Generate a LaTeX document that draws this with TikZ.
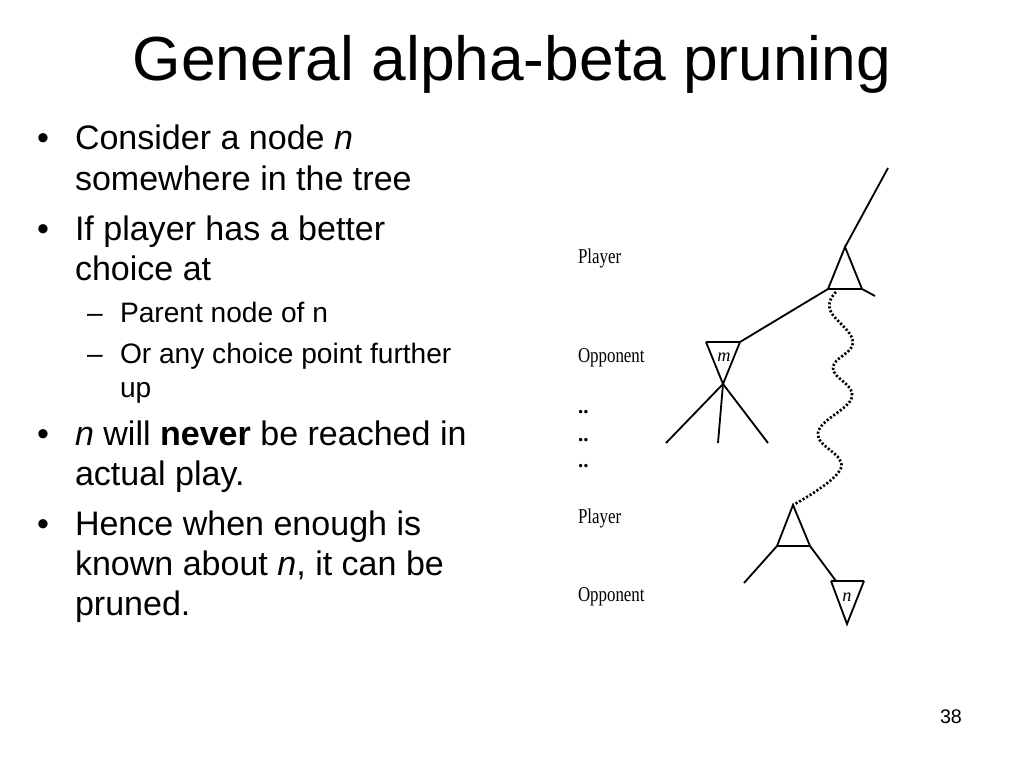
\documentclass[tikz,border=0pt]{standalone}
\usepackage{fontspec}
\setmainfont{Liberation Sans}
\newfontfamily\figfont{Liberation Serif}

\begin{document}
\begin{tikzpicture}[x=0.025cm,y=-0.025cm,
    txt/.style={anchor=base west,inner sep=0pt,outer sep=0pt},
    body/.style={txt,font=\fontsize{24.2pt}{29pt}\selectfont},
    subtxt/.style={txt,font=\fontsize{20pt}{24pt}\selectfont},
    lvl/.style={txt,font=\figfont\fontsize{15pt}{17pt}\selectfont},
    edge/.style={line width=1.3pt},
    tribase/.style={line width=2pt},
    wavy/.style={line width=1.9pt,dash pattern=on 1.5pt off 1.4pt}]
            \useasboundingbox (0,0) rectangle (1024,768);

            % title and bullets
            \node (title) at (512,81)[anchor=base,font=\fontsize{44.3pt}{52pt}\selectfont]{General alpha-beta pruning};
            \foreach \y/\b in {150/b1,240/b2,445/b3,535/b4}{
                \node (\b) at (37,\y)[body]{\textbullet};
            }
            \foreach \y/\d in {322/d1,363/d2}{
                \node (\d) at (87,\y)[subtxt]{\textendash};
            }
            \node (l1) at (75,150)[body]{Consider a node \textit{n}};
            \node (l2) at (75,190)[body]{somewhere in the tree};
            \node (l3) at (75,240)[body]{If player has a better};
            \node (l4) at (75,280)[body]{choice at};
            \node (s1) at (120,322)[subtxt]{Parent node of n};
            \node (s2) at (120,363)[subtxt]{Or any choice point further};
            \node (s3) at (120,397)[subtxt]{up};
            \node (l5) at (75,445)[body]{\textit{n} will \textbf{never} be reached in};
            \node (l6) at (75,485)[body]{actual play.};
            \node (l7) at (75,535)[body]{Hence when enough is};
            \node (l8) at (75,575)[body]{known about \textit{n}, it can be};
            \node (l9) at (75,615)[body]{pruned.};
            \node (page) at (940,723)[txt,font=\fontsize{14pt}{16pt}\selectfont]{38};

            % level labels
            \node (player1) at (578,263)[lvl]{\scalebox{0.8}[1]{Player}};
            \node (opp1) at (578,362)[lvl]{\scalebox{0.8}[1]{Opponent}};
            \foreach \y/\d in {413/e1,441/e2,467/e3}{
                \node (\d) at (578,\y)[lvl]{\textbf{..}};
            }
            \node (player2) at (578,523)[lvl]{\scalebox{0.8}[1]{Player}};
            \node (opp2) at (578,601)[lvl]{\scalebox{0.8}[1]{Opponent}};

            % tree points
            \coordinate (up) at (888,168);
            \coordinate (p1) at (845,247);
            \coordinate (p1l) at (828,289);
            \coordinate (p1r) at (862,289);
            \coordinate (p1t) at (875,296);
            \coordinate (ml) at (706,342);
            \coordinate (mr) at (740,342);
            \coordinate (mb) at (723,384);
            \coordinate (c1) at (666,443);
            \coordinate (c2) at (718,443);
            \coordinate (c3) at (768,443);
            \coordinate (p2) at (793,505);
            \coordinate (p2l) at (777,546);
            \coordinate (p2r) at (810,546);
            \coordinate (p2c) at (744,583);
            \coordinate (nl) at (831,581);
            \coordinate (nr) at (864,581);
            \coordinate (nb) at (847,624);
            \coordinate (nt) at (836,581);

            % upper player node
            \draw[edge] (up)--(p1);
            \draw[edge] (p1l)--(p1)--(p1r)--(p1t);
            \draw[tribase] (p1l)--(p1r);
            \draw[edge] (p1l)--(mr);

            % node m
            \draw[edge] (ml)--(mb)--(mr);
            \draw[tribase] (ml)--(mr);
            \node (mlab) at (724,357)[font=\figfont\fontsize{13pt}{15pt}\selectfont\itshape]{m};
            \foreach \c in {c1,c2,c3}{
                \draw[edge] (mb)--(\c);
            }

            % path down the tree
            \draw[wavy] plot[smooth,tension=0.7] coordinates {(836,292) (830,310) (853,342) (833,368) (852,397) (818,433) (841,468) (p2)};

            % lower player node and n
            \draw[edge] (p2l)--(p2)--(p2r);
            \draw[tribase] (p2l)--(p2r);
            \draw[edge] (p2l)--(p2c);
            \draw[edge] (p2r)--(nt);
            \draw[edge] (nl)--(nb)--(nr);
            \draw[tribase] (nl)--(nr);
            \node (nlab) at (847,597)[font=\figfont\fontsize{13pt}{15pt}\selectfont\itshape]{n};
        \end{tikzpicture}
\end{document}
